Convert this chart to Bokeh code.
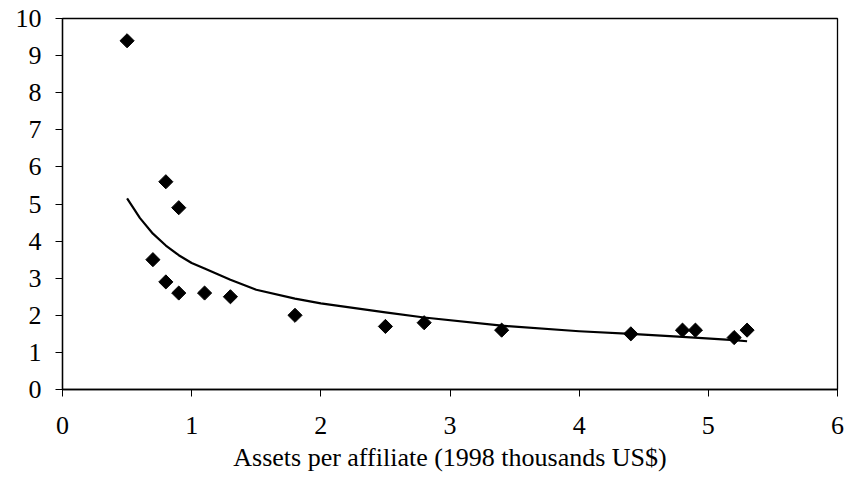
from bokeh.plotting import figure
from bokeh.models import Range1d, FixedTicker
from bokeh.embed import file_html
from bokeh.resources import INLINE
import math

# observed data
x_obs = [0.5, 0.8, 0.9, 0.7, 0.8, 0.9, 1.1, 1.3, 1.8, 2.5, 2.8, 3.4, 4.4, 4.8, 4.9, 5.2, 5.3]
y_obs = [9.4, 5.6, 4.9, 3.5, 2.9, 2.6, 2.6, 2.5, 2.0, 1.7, 1.8, 1.6, 1.5, 1.6, 1.6, 1.4, 1.6]

# fitted trend
x_fit = [0.5, 0.6, 0.7, 0.8, 0.9, 1.0, 1.1, 1.3, 1.5, 1.8, 2.0, 2.5, 2.8, 3.4, 4.0, 4.4, 4.8, 5.2, 5.3]
y_fit = [5.15, 4.62, 4.2, 3.88, 3.62, 3.41, 3.26, 2.96, 2.69, 2.45, 2.32, 2.08, 1.94, 1.72, 1.57, 1.5, 1.42, 1.33, 1.3]

x_ticks = [0, 1, 2, 3, 4, 5, 6]
y_ticks = [0, 1, 2, 3, 4, 5, 6, 7, 8, 9, 10]
x_title = "Assets per affiliate (1998 thousands US$)"

FONT = "Liberation Serif"

p = figure(width=849, height=474, output_backend="svg", toolbar_location=None,
           x_range=Range1d(0, 6), y_range=Range1d(0, 10),
           min_border_left=62, min_border_right=12, min_border_top=18, min_border_bottom=10)
p.background_fill_color = "white"
p.border_fill_color = "white"
p.outline_line_color = "black"
p.outline_line_width = 1.3
p.grid.visible = False

p.line(x_fit, y_fit, line_color="black", line_width=2.2, line_join="round")
p.scatter(x_obs, y_obs, marker="square", angle=math.pi / 4, size=10,
          fill_color="black", line_color="black")

for ax in (p.xaxis[0], p.yaxis[0]):
    ax.axis_line_color = "black"
    ax.axis_line_width = 1.3
    ax.major_tick_line_color = "black"
    ax.minor_tick_line_color = None
    ax.major_label_text_font = FONT
    ax.major_label_text_font_size = "26px"
    ax.major_label_text_color = "black"
    ax.axis_label_text_font = FONT
    ax.axis_label_text_font_style = "normal"
    ax.axis_label_text_color = "black"

p.xaxis.ticker = FixedTicker(ticks=x_ticks)
p.yaxis.ticker = FixedTicker(ticks=y_ticks)
p.xaxis.major_tick_out = 7
p.xaxis.major_tick_in = 0
p.yaxis.major_tick_out = 7
p.yaxis.major_tick_in = 0
p.xaxis.major_label_standoff = 20
p.yaxis.major_label_standoff = 14
p.xaxis.axis_label = x_title
p.xaxis.axis_label_text_font_size = "26px"
p.xaxis.axis_label_standoff = 6

open("out.html", "w").write(file_html(p, INLINE))
